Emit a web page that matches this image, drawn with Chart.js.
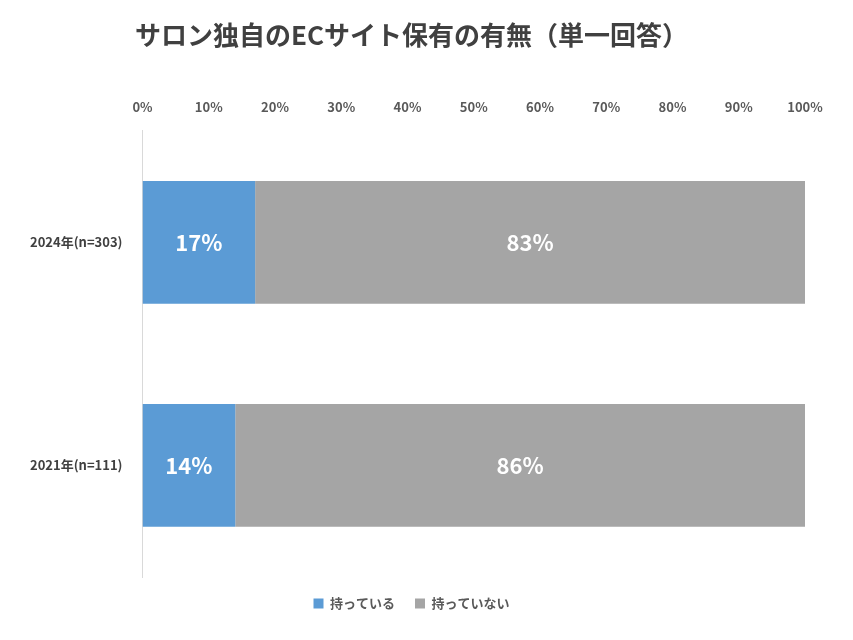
<!DOCTYPE html>
<html><head><meta charset="utf-8">
<script src="https://cdn.jsdelivr.net/npm/chart.js@4/dist/chart.umd.min.js"></script>
<style>html,body{margin:0;padding:0;background:#fff}#w{width:853px;height:640px;position:relative}</style>
</head><body><div id="w"><canvas id="c"></canvas></div>
<script>
const categories = ['2024年(n=303)', '2021年(n=111)'];
const seriesNames = ['持っている', '持っていない'];
const have = [17, 14];
const notHave = [83, 86];
const F = "'Noto Sans CJK JP','Noto Sans',sans-serif";
const labelPlugin = {
  id: 'lbl',
  afterDatasetsDraw(chart) {
    const ctx = chart.ctx;
    ctx.save();
    ctx.fillStyle = '#fff';
    ctx.font = 'bold 22px ' + F;
    ctx.textAlign = 'center'; ctx.textBaseline = 'middle';
    chart.data.datasets.forEach((ds, i) => {
      chart.getDatasetMeta(i).data.forEach((bar, j) => {
        const x = (bar.x + bar.base) / 2;
        ctx.fillText(ds.data[j] + '%', x, bar.y);
      });
    });
    ctx.restore();
  }
};
new Chart(document.getElementById('c'), {
  type: 'bar',
  data: {
    labels: categories,
    datasets: [
      { label: seriesNames[0], data: have, backgroundColor: '#5B9BD5' },
      { label: seriesNames[1], data: notHave, backgroundColor: '#A5A5A5' }
    ]
  },
  options: {
    indexAxis: 'y', responsive: true, maintainAspectRatio: false, animation: false,
    layout: { padding: { left: 18, right: 48, top: 12, bottom: 20 } },
    datasets: { bar: { barPercentage: 0.55, categoryPercentage: 1 } },
    scales: {
      x: { stacked: true, position: 'top', min: 0, max: 100,
        ticks: { stepSize: 10, callback: v => v + '%', color: '#595959', font: { family: F, size: 13, weight: 'bold' }, padding: 8 },
        grid: { display: false }, border: { display: false } },
      y: { stacked: true,
        ticks: { color: '#404040', font: { family: F, size: 13, weight: 'bold' }, padding: 12 },
        grid: { display: false }, border: { display: true, color: '#D9D9D9' } }
    },
    plugins: {
      title: { display: true, text: 'サロン独自のECサイト保有の有無（単一回答）', color: '#404040',
        font: { family: F, size: 26, weight: 'bold' }, padding: { top: 8, bottom: 40 } },
      legend: { position: 'bottom', labels: { boxWidth: 10, boxHeight: 10, color: '#595959', font: { family: F, size: 13, weight: 'bold' }, padding: 20 } },
      tooltip: { enabled: false }
    }
  },
  plugins: [labelPlugin]
});
</script></body></html>
